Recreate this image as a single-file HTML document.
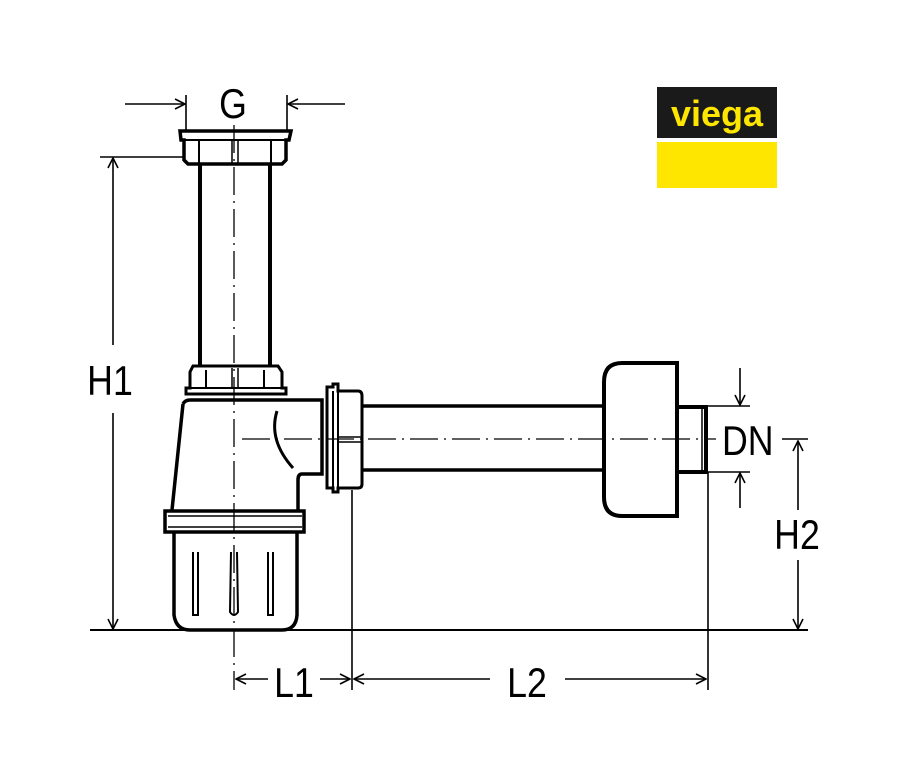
<!DOCTYPE html>
<html><head><meta charset="utf-8"><style>
html,body{margin:0;padding:0;background:#fff;}
svg{display:block}
text{font-family:"Liberation Sans",Arial,sans-serif;fill:#000}
</style></head><body>
<svg width="904" height="769" viewBox="0 0 904 769" xmlns="http://www.w3.org/2000/svg">
<defs>
<marker id="a" markerWidth="12" markerHeight="12" refX="11" refY="6" orient="auto" markerUnits="userSpaceOnUse">
<path d="M1,1 L11,6 L1,11" fill="none" stroke="#000" stroke-width="1.6"/></marker>
</defs>
<g fill="none" stroke="#000">
<path d="M180,131 H291 L289,140 H286 V160 L282,164 H188 L184,160 V140 H181 Z" stroke-width="3.5" fill="#fff"/>
<line x1="184" y1="140" x2="286" y2="140" stroke-width="2"/>
<line x1="199" y1="140" x2="199" y2="163" stroke-width="2"/>
<line x1="271" y1="140" x2="271" y2="163" stroke-width="2"/>
<line x1="232" y1="140" x2="232" y2="163" stroke-width="1.5"/>
<line x1="238" y1="140" x2="238" y2="163" stroke-width="1.5"/>
<line x1="200" y1="164" x2="200" y2="366" stroke-width="4"/>
<line x1="270" y1="164" x2="270" y2="366" stroke-width="4"/>
<path d="M193,366 H278 L282,372 V388 H286 V394 H186 V388 H190 V372 Z" stroke-width="3" fill="#fff"/>
<line x1="190" y1="388" x2="282" y2="388" stroke-width="2"/>
<line x1="206" y1="370" x2="206" y2="388" stroke-width="2"/>
<line x1="264" y1="370" x2="264" y2="388" stroke-width="2"/>
<line x1="232" y1="368" x2="232" y2="388" stroke-width="1.5"/>
<line x1="238" y1="368" x2="238" y2="388" stroke-width="1.5"/>
<path d="M190,400 H322 V474 H302 Q298,474 298,480 V510 M183,404 Q185,400 190,400 M183,404 L172,510" stroke-width="3.5"/>
<path d="M277,411 Q268,440 293,468" stroke-width="3"/>
<rect x="165" y="511" width="139" height="21" stroke-width="3.5" fill="#fff"/>
<line x1="168" y1="516" x2="302" y2="516" stroke-width="1.5"/>
<line x1="168" y1="527" x2="302" y2="527" stroke-width="1.5"/>
<path d="M174,532 V615 Q176,630 190,630 H282 Q296,630 297,615 V532" stroke-width="3.5"/>
<path d="M193,552 V615 H198 V552 M268,552 V615 H273 V552 M231,552 L230,612 Q234,618 238,612 L237,552" stroke-width="2"/>
<path d="M327,387 H333 V384 H338 V391 H358 Q362,391 362,396 V484 Q362,488 358,488 H338 V492 H333 V488 H327 Z" stroke-width="3" fill="#fff"/>
<line x1="333" y1="391" x2="333" y2="488" stroke-width="2"/>
<line x1="338" y1="391" x2="338" y2="488" stroke-width="2"/>
<line x1="338" y1="437" x2="362" y2="437" stroke-width="1.5"/>
<line x1="338" y1="442" x2="362" y2="442" stroke-width="1.5"/>
<line x1="362" y1="406" x2="604" y2="406" stroke-width="3.5"/>
<line x1="362" y1="470" x2="604" y2="470" stroke-width="3.5"/>
<path d="M677,363 H622 Q604,363 604,382 V497 Q604,516 622,516 H677 Z" stroke-width="4" fill="#fff"/>
<path d="M677,407 H706 V472 H677" stroke-width="4"/>
<line x1="702" y1="409" x2="702" y2="470" stroke-width="1.5"/>
<line x1="234" y1="125" x2="234" y2="690" stroke-width="1.3" stroke-dasharray="28,6,2,6"/>
<line x1="242" y1="439" x2="716" y2="439" stroke-width="1.3" stroke-dasharray="28,6,2,6"/>
<g stroke-width="1.6">
<line x1="186" y1="95" x2="186" y2="131"/>
<line x1="287" y1="95" x2="287" y2="131"/>
<line x1="125" y1="104" x2="185" y2="104" marker-end="url(#a)"/>
<line x1="345" y1="104" x2="288" y2="104" marker-end="url(#a)"/>
<line x1="100" y1="157" x2="184" y2="157"/>
<line x1="113" y1="345" x2="113" y2="158" marker-end="url(#a)"/>
<line x1="113" y1="413" x2="113" y2="629" marker-end="url(#a)"/>
<line x1="90" y1="630" x2="808" y2="630" stroke-width="2"/>
<line x1="352" y1="490" x2="352" y2="690"/>
<line x1="708" y1="472" x2="708" y2="690"/>
<line x1="268" y1="679" x2="236" y2="679" marker-end="url(#a)"/>
<line x1="320" y1="679" x2="350" y2="679" marker-end="url(#a)"/>
<line x1="490" y1="679" x2="354" y2="679" marker-end="url(#a)"/>
<line x1="565" y1="679" x2="706" y2="679" marker-end="url(#a)"/>
<line x1="708" y1="406" x2="750" y2="406"/>
<line x1="708" y1="472" x2="750" y2="472"/>
<line x1="740" y1="368" x2="740" y2="405" marker-end="url(#a)"/>
<line x1="740" y1="508" x2="740" y2="473" marker-end="url(#a)"/>
<line x1="782" y1="439" x2="808" y2="439"/>
<line x1="798" y1="510" x2="798" y2="441" marker-end="url(#a)"/>
<line x1="798" y1="560" x2="798" y2="629" marker-end="url(#a)"/>
</g>
</g>
<g font-size="42">
<text x="233" y="118" text-anchor="middle" transform="translate(233 0) scale(0.85 1) translate(-233 0)">G</text>
<text x="110" y="395" text-anchor="middle" transform="translate(110 0) scale(0.85 1) translate(-110 0)">H1</text>
<text x="294" y="697" text-anchor="middle" transform="translate(294 0) scale(0.85 1) translate(-294 0)">L1</text>
<text x="527" y="697" text-anchor="middle" transform="translate(527 0) scale(0.85 1) translate(-527 0)">L2</text>
<text x="722" y="455" transform="translate(722 0) scale(0.85 1) translate(-722 0)">DN</text>
<text x="797" y="549" text-anchor="middle" transform="translate(797 0) scale(0.85 1) translate(-797 0)">H2</text>
</g>
<rect x="657" y="87" width="120" height="51" fill="#1a1a1a"/>
<rect x="657" y="142" width="120" height="46" fill="#ffe600"/>
<text x="717" y="126" text-anchor="middle" font-size="36" font-weight="bold" style="fill:#ffe600">viega</text>
</svg>
</body></html>
